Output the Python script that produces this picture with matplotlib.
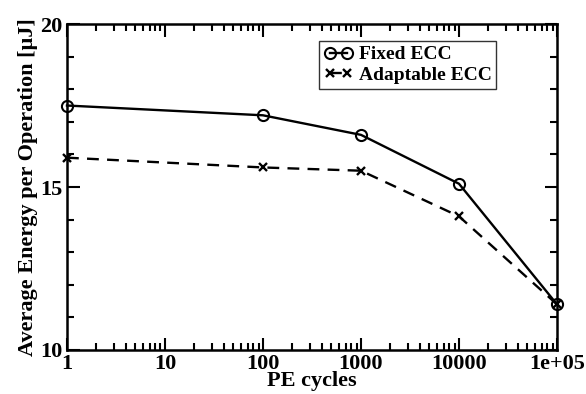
import matplotlib.pyplot as plt
from matplotlib.ticker import LogLocator, NullFormatter, FixedLocator

plt.rcParams['font.family'] = 'Liberation Serif'
plt.rcParams['font.weight'] = 'bold'

pe_cycles = [1, 100, 1000, 10000, 100000]
fixed_ecc = [17.5, 17.2, 16.6, 15.1, 11.4]
adaptable_ecc = [15.9, 15.6, 15.5, 14.1, 11.4]
x_tick_vals = [1, 10, 100, 1000, 10000, 100000]
x_tick_labels = ['1', '10', '100', '1000', '10000', '1e+05']

fig = plt.figure(figsize=(5.86, 3.94), dpi=100)
ax = fig.add_axes([0.1143, 0.1117, 0.8362, 0.8273])

ax.plot(pe_cycles, fixed_ecc, color='black', linewidth=1.7, marker='o',
        markersize=8, markerfacecolor='none', markeredgewidth=1.5,
        label='Fixed ECC', clip_on=False, zorder=3)
ax.plot(pe_cycles, adaptable_ecc, color='black', linewidth=1.7, linestyle=(0, (5, 3.5)),
        marker='x', markersize=6, markeredgewidth=1.7,
        label='Adaptable ECC', clip_on=False, zorder=3)

ax.set_xscale('log')
ax.set_xlim(1, 100000)
ax.set_ylim(10, 20)
ax.set_xticks(x_tick_vals)
ax.set_xticklabels(x_tick_labels)
ax.xaxis.set_minor_locator(LogLocator(base=10, subs=range(2, 10)))
ax.xaxis.set_minor_formatter(NullFormatter())
ax.set_yticks([10, 15, 20])
ax.yaxis.set_minor_locator(FixedLocator([11, 12, 13, 14, 16, 17, 18, 19]))

ax.tick_params(which='both', direction='in', top=True, right=True, width=1.5,
               labelsize=16)
ax.tick_params(which='major', length=9, pad=3)
ax.tick_params(which='minor', length=5)
for s in ax.spines.values():
    s.set_linewidth(1.8)

ax.set_xlabel('PE cycles', fontsize=16, fontweight='bold', labelpad=-2)
ax.set_ylabel('Average Energy per Operation [\u00b5J]', fontsize=16,
              fontweight='bold', labelpad=2)

leg = ax.legend(loc='upper left', bbox_to_anchor=(0.514, 0.948), numpoints=2,
                handlelength=1.5, handletextpad=0.3, borderaxespad=0,
                frameon=True, fancybox=False, borderpad=0.25, labelspacing=0.15,
                prop={'weight': 'bold', 'size': 14})
leg.get_frame().set_edgecolor('black')
leg.get_frame().set_linewidth(1.0)

fig.savefig('out.png', dpi=100)
